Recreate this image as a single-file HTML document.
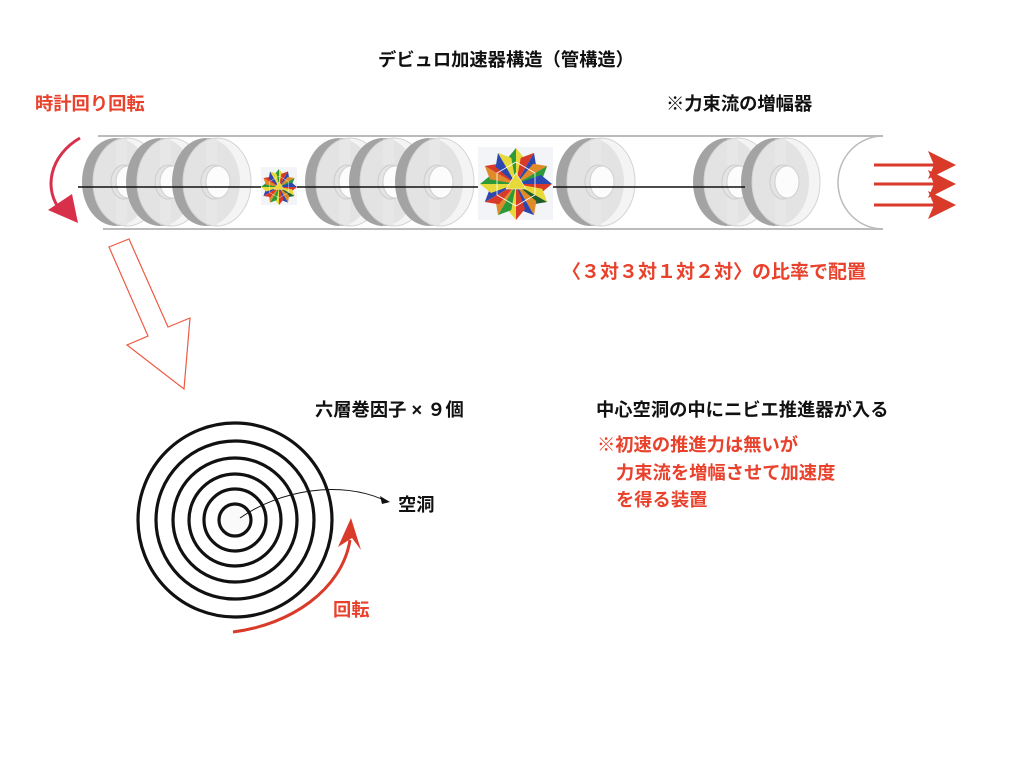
<!DOCTYPE html>
<html><head><meta charset="utf-8"><style>
body{margin:0;width:1024px;height:768px;background:#fff;position:relative;overflow:hidden;font-family:"Liberation Sans","Noto Sans CJK JP",sans-serif;font-weight:bold}
.t{position:absolute;font-size:18.3px;line-height:20px;white-space:nowrap;color:#111}
.r{color:#e8412c}
svg{position:absolute;left:0;top:0}
</style></head><body>
<svg width="1024" height="768" viewBox="0 0 1024 768">
<defs>
<g id="disc">
<ellipse cx="-11" cy="0" rx="34" ry="44" fill="#a3a3a3"/>
<rect x="-11" y="-44" width="11" height="88" fill="#b8b8b8"/>
<ellipse cx="0" cy="0" rx="34" ry="44" fill="#f1f1f1" fill-opacity="0.82" stroke="#d4d4d4" stroke-width="1"/>
<ellipse cx="-3" cy="0" rx="13" ry="17" fill="#e4e4e4" fill-opacity="0.8" stroke="#cccccc"/>
<ellipse cx="1" cy="0" rx="12" ry="16" fill="#fcfcfc" stroke="#d0d0d0"/>
</g>
<g id="star">
<g><polygon points="0,0 -9,-25 0,-36" fill="#2d9a3a"/><polygon points="0,0 0,-36 9,-25" fill="#e7d93a"/></g>
<g transform="rotate(30)"><polygon points="0,0 -9,-25 0,-36" fill="#d83a2a"/><polygon points="0,0 0,-36 9,-25" fill="#2a48b0"/></g>
<g transform="rotate(60)"><polygon points="0,0 -9,-25 0,-36" fill="#e08a2a"/><polygon points="0,0 0,-36 9,-25" fill="#2d9a3a"/></g>
<g transform="rotate(90)"><polygon points="0,0 -9,-25 0,-36" fill="#2a48b0"/><polygon points="0,0 0,-36 9,-25" fill="#d83a2a"/></g>
<g transform="rotate(120)"><polygon points="0,0 -9,-25 0,-36" fill="#e7d93a"/><polygon points="0,0 0,-36 9,-25" fill="#1f5e2a"/></g>
<g transform="rotate(150)"><polygon points="0,0 -9,-25 0,-36" fill="#e08a2a"/><polygon points="0,0 0,-36 9,-25" fill="#2a48b0"/></g>
<g transform="rotate(180)"><polygon points="0,0 -9,-25 0,-36" fill="#d83a2a"/><polygon points="0,0 0,-36 9,-25" fill="#e7d93a"/></g>
<g transform="rotate(210)"><polygon points="0,0 -9,-25 0,-36" fill="#2d9a3a"/><polygon points="0,0 0,-36 9,-25" fill="#e08a2a"/></g>
<g transform="rotate(240)"><polygon points="0,0 -9,-25 0,-36" fill="#d83a2a"/><polygon points="0,0 0,-36 9,-25" fill="#2a48b0"/></g>
<g transform="rotate(270)"><polygon points="0,0 -9,-25 0,-36" fill="#e7d93a"/><polygon points="0,0 0,-36 9,-25" fill="#2d9a3a"/></g>
<g transform="rotate(300)"><polygon points="0,0 -9,-25 0,-36" fill="#e08a2a"/><polygon points="0,0 0,-36 9,-25" fill="#d83a2a"/></g>
<g transform="rotate(330)"><polygon points="0,0 -9,-25 0,-36" fill="#2a48b0"/><polygon points="0,0 0,-36 9,-25" fill="#e7d93a"/></g>
<polygon points="0,-22 19,-11 19,11 0,22 -19,11 -19,-11" fill="none" stroke="#fff" stroke-width="0.8"/>
<polygon points="0,-11 10,5 -10,5" fill="#e7d93a" stroke="#fff" stroke-width="0.6"/>
</g>
</defs>
<line x1="98" y1="136" x2="883" y2="136" stroke="#bbb" stroke-width="2"/>
<line x1="103" y1="229" x2="883" y2="229" stroke="#bbb" stroke-width="2"/>
<path d="M883,136 A45,46.5 0 0 0 883,229" fill="none" stroke="#bbb" stroke-width="1.5"/>
<use href="#disc" x="127" y="182"/>
<use href="#disc" x="171" y="182"/>
<use href="#disc" x="217" y="182"/>
<use href="#disc" x="350" y="182"/>
<use href="#disc" x="394" y="182"/>
<use href="#disc" x="440" y="182"/>
<use href="#disc" x="601" y="182"/>
<use href="#disc" x="738" y="182"/>
<use href="#disc" x="786" y="182"/>
<line x1="78" y1="187" x2="745" y2="187" stroke="#111" stroke-width="1.5"/>
<rect x="261" y="167" width="36" height="38" fill="#f3f4f8"/>
<use href="#star" transform="translate(279,187) scale(0.5)"/>
<rect x="478" y="147" width="75" height="73" fill="#f3f4f8"/>
<use href="#star" transform="translate(516,184)"/>
<g stroke="#d93a2a" stroke-width="3">
<line x1="874" y1="165" x2="935" y2="165"/><line x1="874" y1="184" x2="935" y2="184"/><line x1="874" y1="205" x2="935" y2="205"/>
</g>
<g fill="#d93a2a">
<polygon points="928,151 956,165 928,179 934,165"/>
<polygon points="928,170 956,184 928,198 934,184"/>
<polygon points="928,191 956,205 928,219 934,205"/>
</g>
<path d="M80,138 C50,155 42,190 62,212" fill="none" stroke="#d8304a" stroke-width="3"/>
<polygon points="48,210 78,223 72,194" fill="#d8304a"/>
<polygon points="109,247 129,239 168,327 190,318 184,389 127,345 148,336" fill="none" stroke="#ee5a44" stroke-width="1.2"/>
<g fill="none" stroke="#111" stroke-width="3.2">
<circle cx="235" cy="520" r="97"/><circle cx="235" cy="520" r="79"/><circle cx="235" cy="520" r="62"/><circle cx="235" cy="520" r="46"/><circle cx="235" cy="520" r="31"/><circle cx="235" cy="520" r="16"/>
</g>
<circle cx="235" cy="520" r="14" fill="#fafafa"/>
<path d="M240,518 C280,490 340,480 384,500" fill="none" stroke="#111" stroke-width="1"/>
<polygon points="390,502 380,496 382,504" fill="#111"/>
<path d="M233,632 C290,625 342,590 350,540" fill="none" stroke="#d93a2a" stroke-width="3"/>
<polygon points="351,518 338,547 352,538 361,550" fill="#d93a2a"/>
</svg>
<div class="t" style="left:378px;top:50px">デビュロ加速器構造（管構造）</div>
<div class="t r" style="left:35px;top:94px">時計回り回転</div>
<div class="t" style="left:666px;top:94px">※力束流の増幅器</div>
<div class="t r" style="left:562px;top:263px;font-size:19px">〈３対３対１対２対〉の比率で配置</div>
<div class="t" style="left:315px;top:400px">六層巻因子 × ９個</div>
<div class="t" style="left:596px;top:400px">中心空洞の中にニビエ推進器が入る</div>
<div class="t r" style="left:597px;top:435px">※初速の推進力は無いが</div>
<div class="t r" style="left:616px;top:463px">力束流を増幅させて加速度</div>
<div class="t r" style="left:616px;top:490px">を得る装置</div>
<div class="t" style="left:398px;top:495px">空洞</div>
<div class="t r" style="left:333px;top:600px">回転</div>
</body></html>
